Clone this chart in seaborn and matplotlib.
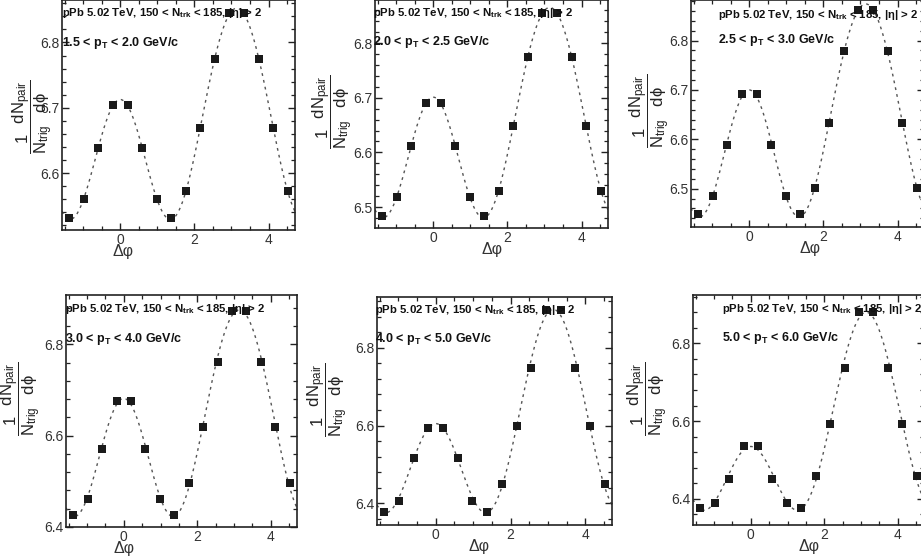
import numpy as np
import pandas as pd
import matplotlib
matplotlib.use("Agg")
import matplotlib.pyplot as plt
import seaborn as sns
from matplotlib.ticker import MultipleLocator

# ---------------- data ----------------
dphi = [-1.374, -0.982, -0.589, -0.196, 0.196, 0.589, 0.982, 1.374,
        1.767, 2.160, 2.553, 2.945, 3.338, 3.731, 4.123, 4.516]

y_pt15_20 = [6.531, 6.560, 6.638, 6.705, 6.705, 6.638, 6.560, 6.531,
             6.573, 6.669, 6.775, 6.845, 6.845, 6.775, 6.669, 6.573]
y_pt20_25 = [6.483, 6.518, 6.612, 6.691, 6.691, 6.612, 6.518, 6.483,
             6.530, 6.649, 6.775, 6.855, 6.855, 6.775, 6.649, 6.530]
y_pt25_30 = [6.449, 6.486, 6.588, 6.692, 6.692, 6.588, 6.486, 6.449,
             6.501, 6.634, 6.779, 6.862, 6.862, 6.779, 6.634, 6.501]
y_pt30_40 = [6.427, 6.461, 6.570, 6.675, 6.675, 6.570, 6.461, 6.427,
             6.496, 6.618, 6.762, 6.872, 6.872, 6.762, 6.618, 6.496]
y_pt40_50 = [6.378, 6.407, 6.516, 6.595, 6.595, 6.516, 6.407, 6.378,
             6.449, 6.600, 6.749, 6.897, 6.897, 6.749, 6.600, 6.449]
y_pt50_60 = [6.376, 6.390, 6.451, 6.537, 6.537, 6.451, 6.390, 6.376,
             6.459, 6.592, 6.737, 6.881, 6.881, 6.737, 6.592, 6.459]
err_pt50_60 = [0.008] * 16

pt_labels = [r"1.5 < p$_{\mathbf{T}}$ < 2.0 GeV/c",
             r"2.0 < p$_{\mathbf{T}}$ < 2.5 GeV/c",
             r"2.5 < p$_{\mathbf{T}}$ < 3.0 GeV/c",
             r"3.0 < p$_{\mathbf{T}}$ < 4.0 GeV/c",
             r"4.0 < p$_{\mathbf{T}}$ < 5.0 GeV/c",
             r"5.0 < p$_{\mathbf{T}}$ < 6.0 GeV/c"]
header = r"pPb 5.02 TeV, 150 < N$_{\mathbf{trk}}$ < 185, |$\mathbf{\eta}$| > 2"
ylabel = r"$\mathregular{\dfrac{1}{N_{trig}}\dfrac{dN_{pair}}{d\phi}}$"
series = [y_pt15_20, y_pt20_25, y_pt25_30, y_pt30_40, y_pt40_50, y_pt50_60]
errors = [None, None, None, None, None, err_pt50_60]

# ---------------- layout ----------------
W, H = 921, 559
# (left, right, top, bottom) in pixels
boxes = [(62, 295, 0, 230), (375, 608, 0, 228), (691, 924, 0, 227),
         (66, 297, 295, 527), (377, 612, 297, 525), (693, 924, 295, 525)]
ylims = [(6.513, 6.865), (6.4616, 6.879), (6.4225, 6.882),
         (6.400, 6.908), (6.344, 6.931), (6.333, 6.924)]
ymajor = [0.1, 0.1, 0.1, 0.2, 0.2, 0.2]
text_x_px = [62, 373, 718, 65, 375, 722]
line1_px = [13, 13, 15, 14, 13, 14]
line2_px = [43, 42, 40, 44, 42, 43]
xlabel_frac = [0.26, 0.50, 0.51, 0.25, 0.435, 0.50]
ylabel_right_px = [55, 355, 672, 43, 350, 670]
ylabel_yfrac = [0.49, 0.51, 0.51, 0.55, 0.55, 0.55]

sns.set_style("ticks")
plt.rcParams["font.family"] = ["Liberation Sans", "DejaVu Sans"]
plt.rcParams["mathtext.fontset"] = "custom"
plt.rcParams["mathtext.rm"] = "Liberation Sans"
plt.rcParams["mathtext.it"] = "Liberation Sans:italic"
plt.rcParams["mathtext.bf"] = "Liberation Sans:bold"

fig = plt.figure(figsize=(W / 100, H / 100), dpi=100)
fig.patch.set_facecolor("white")

xfine = np.linspace(-np.pi / 2, 3 * np.pi / 2, 400)
xarr = np.array(dphi)

for i, (l, r, t, b) in enumerate(boxes):
    ax = fig.add_axes([l / W, 1 - b / H, (r - l) / W, (b - t) / H])
    yv = np.array(series[i])
    # Fourier fit to the data points (dashed curve)
    A = np.column_stack([np.cos(n * xarr) for n in range(4)])
    coef, *_ = np.linalg.lstsq(A, yv, rcond=None)
    Af = np.column_stack([np.cos(n * xfine) for n in range(4)])
    yfit = Af @ coef
    sns.lineplot(x=xfine, y=yfit, ax=ax, color="#555555", lw=1.0,
                 linestyle=(0, (2.0, 3.0)), zorder=2)
    if errors[i] is not None:
        ax.errorbar(xarr, yv, yerr=errors[i], fmt="none", ecolor="#222222",
                    elinewidth=1.2, capsize=0, zorder=3)
    sns.scatterplot(x=xarr, y=yv, ax=ax, marker="s", s=30, color="#1a1a1a",
                    linewidth=0, zorder=4)
    ax.set_xlim(-np.pi / 2, 3 * np.pi / 2)
    ax.set_ylim(*ylims[i])
    ax.xaxis.set_major_locator(MultipleLocator(2))
    ax.xaxis.set_minor_locator(MultipleLocator(0.5))
    ax.yaxis.set_major_locator(MultipleLocator(ymajor[i]))
    ax.yaxis.set_minor_locator(MultipleLocator(ymajor[i] / 5))
    ax.tick_params(which="both", direction="in", top=True, right=True,
                   colors="#222222", labelcolor="#333333")
    ax.tick_params(which="major", length=5, width=1.0, labelsize=10, pad=2)
    ax.tick_params(which="minor", length=2.8, width=0.9)
    for s in ax.spines.values():
        s.set_color("#222222")
        s.set_linewidth(1.2)
    hgt = b - t
    wid = r - l
    ax.set_xlabel("Δφ", fontsize=11.5, color="#333333")
    ax.xaxis.set_label_coords(xlabel_frac[i], -14 / hgt)
    ax.set_ylabel(ylabel, fontsize=12, color="#222222")
    ax.yaxis.set_label_coords((ylabel_right_px[i] - l) / wid, ylabel_yfrac[i])
    tx = (text_x_px[i] - l) / wid
    ax.text(tx, 1 - line1_px[i] / hgt, header, transform=ax.transAxes,
            fontsize=8.2, fontweight="bold", ha="left", va="center",
            color="#111111", zorder=5)
    ax.text(tx, 1 - line2_px[i] / hgt, pt_labels[i], transform=ax.transAxes,
            fontsize=9, fontweight="bold", ha="left", va="center",
            color="#111111", zorder=5)

fig.savefig("out.png", dpi=100, facecolor="white")
